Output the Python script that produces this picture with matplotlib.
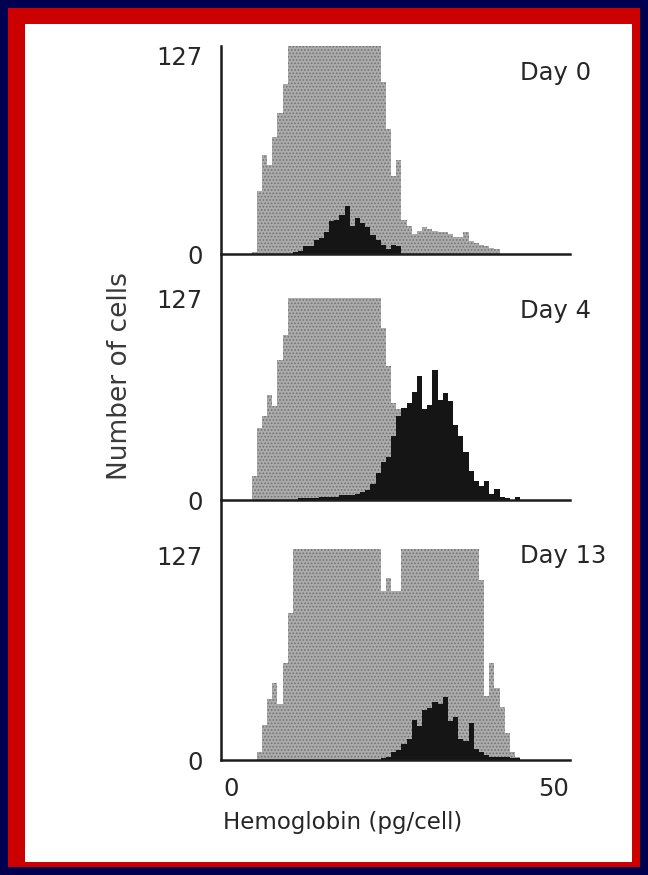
import matplotlib
matplotlib.use("Agg")
import matplotlib.pyplot as plt
import numpy as np
from matplotlib.patches import Rectangle
from matplotlib.lines import Line2D

plt.rcParams['font.family'] = 'DejaVu Sans'
plt.rcParams['hatch.color'] = '#727272'
plt.rcParams['hatch.linewidth'] = 0.8

# histogram channels, 0.8 pg/cell wide, starting at 0
bin_w = 0.8
days = ["Day 0", "Day 4", "Day 13"]
y_max = [133, 127, 131]  # display ceiling of each panel (gray peaks are off scale)

day0_gray = [0, 0, 0, 0, 1, 40, 63, 57, 75, 90, 109, 150, 175, 200, 230, 255, 270, 280, 290, 285,
             280, 270, 260, 245, 230, 210, 190, 170, 150, 110, 80, 50, 60, 22, 18, 13, 15, 17, 16, 15,
             14, 14, 13, 11, 11, 14, 8, 7, 6, 5, 4, 3, 0, 0, 0, 0, 0, 0, 0, 0,
             0, 0, 0]
day0_black = [0, 0, 0, 0, 0, 0, 0, 0, 0, 0, 0, 0, 1, 2, 5, 5, 9, 10, 14, 21,
              22, 25, 31, 18, 23, 20, 17, 12, 9, 6, 3, 6, 5, 0, 0, 0, 0, 0, 0, 0,
              0, 0, 0, 0, 0, 0, 0, 0, 0, 0, 0, 0, 0, 0, 0, 0, 0, 0, 0, 0,
              0, 0, 0]

day4_gray = [0, 0, 0, 0, 15, 45, 53, 66, 59, 88, 104, 140, 165, 190, 215, 240, 260, 275, 285, 280,
             270, 255, 240, 220, 200, 180, 160, 145, 132, 108, 84, 61, 57, 45, 35, 26, 18, 12, 8, 5,
             3, 2, 1, 0, 0, 0, 0, 0, 0, 0, 0, 0, 0, 0, 0, 0, 0, 0, 0, 0,
             0, 0, 0]
day4_black = [0, 0, 0, 0, 0, 0, 0, 0, 0, 0, 0, 0, 0, 1, 1, 1, 1, 2, 2, 2,
              2, 3, 3, 3, 4, 5, 6, 10, 17, 24, 27, 40, 53, 58, 61, 68, 78, 57, 60, 82,
              63, 67, 62, 47, 40, 30, 18, 12, 9, 12, 4, 7, 2, 1, 0, 2, 0, 0, 0, 0,
              0, 0, 0]

day13_gray = [0, 0, 0, 0, 0, 5, 22, 38, 48, 35, 60, 91, 150, 175, 200, 220, 240, 250, 255, 250,
              240, 230, 215, 200, 185, 170, 160, 150, 140, 105, 113, 105, 105, 140, 150, 165, 180, 190, 200, 205,
              200, 190, 180, 170, 160, 150, 140, 135, 112, 40, 60, 45, 33, 17, 5, 2, 0, 0, 0, 0,
              0, 0, 0]
day13_black = [0, 0, 0, 0, 0, 0, 0, 0, 0, 0, 0, 0, 0, 0, 0, 0, 0, 0, 0, 0,
               0, 0, 0, 0, 0, 0, 0, 0, 0, 1, 2, 5, 6, 10, 13, 25, 21, 31, 32, 36,
               35, 39, 24, 27, 13, 12, 23, 7, 5, 3, 2, 2, 2, 2, 1, 1, 0, 0, 0, 0,
               0, 0, 0]

grays = [day0_gray, day4_gray, day13_gray]
blacks = [day0_black, day4_black, day13_black]

W, H = 648, 875
txt = '#262626'
ink = '#1c1c1c'


def box(left, top, right, bottom):
    # pixel box (image coords) -> figure fraction rect
    return [left / W, 1 - bottom / H, (right - left) / W, (bottom - top) / H]


fig = plt.figure(figsize=(W / 100, H / 100), dpi=100, facecolor='#000050')
fig.patches.append(Rectangle((8 / W, 8 / H), 632 / W, 859 / H, transform=fig.transFigure,
                             facecolor='#cc0000', edgecolor='none', zorder=-5))
fig.patches.append(Rectangle((25 / W, 13 / H), 607 / W, 838 / H, transform=fig.transFigure,
                             facecolor='white', edgecolor='none', zorder=-4))

# panel (top, bottom) in image pixels
panels = [(46, 254), (298, 500), (549, 760)]
label_y = [73, 311, 556]

for i, (top, bottom) in enumerate(panels):
    ax = fig.add_axes(box(221, top, 570, bottom))
    ax.patch.set_alpha(0)
    edges = bin_w * np.arange(len(grays[i]) + 1)
    ax.stairs(grays[i], edges, fill=True, facecolor='#acacac', hatch='.....')
    ax.stairs(blacks[i], edges, fill=True, color='#151515')
    ax.set_xlim(-1.55, 52.5)
    ax.set_ylim(0, y_max[i])
    for s in ['top', 'right', 'left']:
        ax.spines[s].set_visible(False)
    ax.spines['bottom'].set_linewidth(1.8)
    ax.spines['bottom'].set_color(ink)
    ax.set_yticks([0, 127])
    ax.set_yticklabels(['0', '127'])
    ax.tick_params(axis='y', length=0, pad=13, labelsize=17.5, labelcolor=txt)
    if i == 2:
        ax.set_xticks([0, 50])
        ax.set_xticklabels(['0', '50'])
        ax.tick_params(axis='x', length=0, pad=12, labelsize=17.5, labelcolor=txt)
    else:
        ax.set_xticks([])
    fig.text(520 / W, 1 - label_y[i] / H, days[i], ha='left', va='center',
             fontsize=17.5, color=txt)

# continuous y axis line shared by the three panels
fig.add_artist(Line2D([221 / W, 221 / W], [1 - 46 / H, 1 - 760 / H],
                      transform=fig.transFigure, color=ink, lw=1.8))

fig.text(120 / W, 1 - 376 / H, "Number of cells", rotation=90, ha='center', va='center',
         fontsize=19, color='#3a3a3a')
fig.text(343 / W, 1 - 822 / H, "Hemoglobin (pg/cell)", ha='center', va='center',
         fontsize=16.5, color=txt)

fig.savefig("out.png", dpi=100, facecolor=fig.get_facecolor())
